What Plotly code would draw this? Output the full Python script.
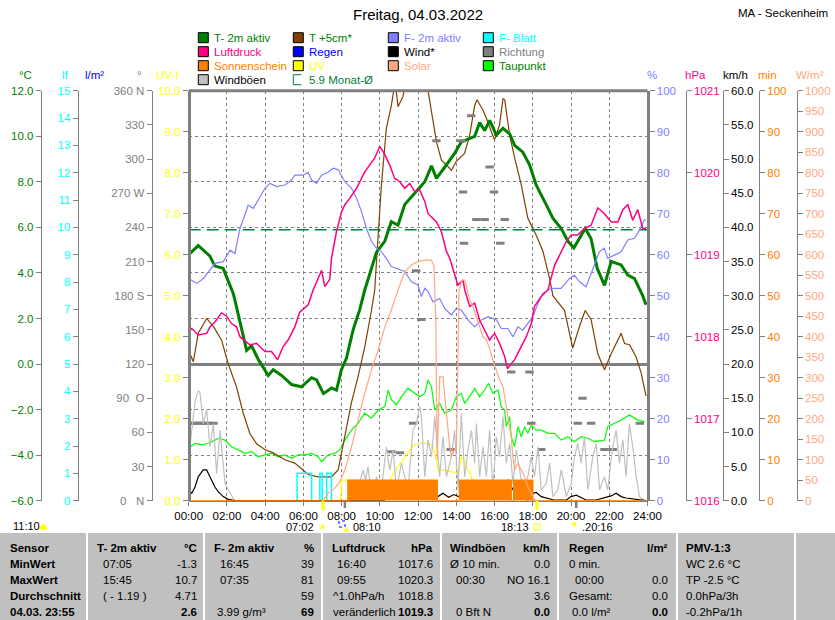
import plotly.graph_objects as go

W, H = 835, 620
FONT = "Liberation Sans, Arial, sans-serif"
GREY = "#808080"

# ---------------- data (time in hours) ----------------
t2m_time = [0.00, 0.50, 1.10, 1.37, 1.80, 2.07, 2.33, 2.42, 2.68, 3.03, 3.29, 3.64, 4.16, 4.42, 4.86,
            5.38, 5.90, 6.43, 6.69, 7.05, 7.47, 7.73, 7.99, 8.25, 8.60, 8.95, 9.21, 9.30, 9.82, 10.26,
            10.60, 10.95, 11.30, 11.82, 12.35, 12.70, 12.96, 13.40, 13.91, 14.26, 14.96, 15.22, 15.48,
            15.75, 16.09, 16.44, 16.79, 17.05, 17.48, 17.83, 18.18, 18.70, 19.05, 19.49, 19.83, 20.15,
            20.44, 20.74, 21.05, 21.37, 21.75, 22.10, 22.62, 22.97, 23.32, 23.75, 23.92]
t2m_val = [4.8, 5.2, 4.75, 4.3, 4.2, 3.6, 3.1, 2.8, 1.8, 0.6, 0.8, 0.2, -0.5, -0.25, -0.5,
           -0.9, -1.0, -0.6, -0.7, -1.3, -1.05, -1.15, -0.25, 0.25, 1.5, 2.4, 3.25, 3.5, 4.9, 5.4,
           6.25, 6.1, 7.0, 7.5, 8.0, 8.7, 8.15, 8.65, 9.25, 9.75, 10.0, 10.6, 10.25,
           10.7, 10.05, 10.35, 10.1, 9.6, 9.3, 8.75, 7.85, 7.0, 6.4, 5.95, 5.4, 5.1,
           5.5, 5.95, 5.5, 4.2, 3.45, 4.5, 4.35, 3.9, 3.75, 3.0, 2.6]

t5_time = [0.00, 0.24, 0.50, 0.94, 1.29, 1.72, 2.07, 2.50, 2.85, 3.20, 3.55, 3.98, 4.42, 5.03, 5.55,
           6.25, 6.77, 7.47, 7.82, 8.17, 8.51, 8.86, 9.21, 9.56, 9.73, 9.91, 10.08, 10.34, 10.60,
           10.80, 10.95, 11.21, 11.40, 11.90, 12.30, 12.52, 12.70, 12.96, 13.22, 13.48, 13.74, 14.00,
           14.43, 14.70, 14.96, 15.08, 15.39, 15.57, 15.83, 16.00, 16.26, 16.44, 16.53, 16.79, 17.05,
           17.40, 17.74, 18.18, 18.53, 18.88, 19.05, 19.66, 20.09, 20.44, 20.74, 21.05, 21.40, 21.75,
           22.10, 22.36, 22.62, 22.80, 23.06, 23.41, 23.67, 23.92]
t5_val = [0.6, 0.1, 1.35, 2.0, 1.65, 1.05, 0.0, -1.0, -2.15, -3.05, -3.5, -3.75, -3.9, -4.2, -4.35,
          -4.85, -4.95, -4.95, -4.65, -3.2, -1.7, -0.55, 0.75, 2.35, 3.25, 5.65, 7.85, 10.35, 11.35,
          12.4, 11.3, 11.75, 12.6, 13.2, 12.8, 12.0, 11.1, 9.75, 8.95, 8.75, 8.5, 8.9,
          9.25, 10.05, 11.35, 11.6, 11.15, 10.8, 10.2, 9.85, 10.5, 11.65, 11.6, 10.05, 9.05,
          7.85, 6.4, 5.65, 4.95, 3.75, 3.0, 2.35, 0.7, 1.65, 2.35, 1.95, 0.45, -0.25,
          0.45, 0.9, 1.35, 0.9, 0.85, 0.3, -0.4, -1.4]

dew_time = [0.00, 0.33, 0.68, 1.03, 1.37, 1.55, 1.90, 2.24, 2.59, 2.94, 3.29, 3.64, 3.99, 4.33, 4.68,
            5.03, 5.38, 5.73, 6.08, 6.43, 6.77, 6.95, 7.29, 7.64, 7.90, 8.17, 8.52, 8.86, 9.21, 9.56,
            9.91, 10.26, 10.43, 10.61, 10.87, 11.13, 11.47, 11.82, 12.08, 12.35, 12.52, 12.70, 12.87,
            13.13, 13.39, 13.74, 14.00, 14.26, 14.44, 14.70, 14.96, 15.22, 15.48, 15.69, 15.91, 16.18,
            16.35, 16.53, 16.61, 16.79, 16.87, 17.05, 17.22, 17.40, 17.57, 17.74, 17.92, 18.18, 18.44,
            18.79, 19.14, 19.49, 19.83, 20.18, 20.53, 20.88, 21.22, 21.75, 21.92, 22.27, 22.62, 23.05,
            23.49, 23.84]
dew_val = [-3.7, -3.48, -3.55, -3.48, -3.34, -3.26, -3.34, -3.63, -3.77, -3.92, -3.85, -4.07, -3.99, -3.92, -4.07,
           -3.99, -4.14, -3.99, -3.99, -3.92, -4.07, -4.29, -3.99, -3.92, -3.77, -3.34, -2.9, -2.6, -2.16, -2.38,
           -2.02, -1.87, -1.14, -1.58, -1.8, -1.43, -1.07, -1.3, -1.43, -1.29, -0.7, -1.0, -2.02,
           -1.73, -2.16, -2.02, -1.43, -1.29, -1.73, -1.43, -1.07, -1.43, -1.14, -0.85, -1.29, -1.14,
           -1.87, -2.02, -2.75, -2.31, -3.19, -3.63, -2.75, -3.19, -2.75, -3.04, -2.68, -2.9, -2.9,
           -3.04, -3.04, -3.34, -3.19, -3.41, -3.19, -3.26, -3.41, -3.34, -2.75, -2.6, -2.46, -2.24,
           -2.46, -2.53]

monat_avg = 5.9

hum_time = [0.00, 0.42, 0.77, 1.37, 1.81, 2.16, 2.42, 2.68, 2.94, 3.11, 3.38, 3.64, 3.99, 4.25, 4.60,
            5.03, 5.38, 5.55, 5.99, 6.25, 6.43, 6.69, 6.95, 7.29, 7.56, 7.82, 8.17, 8.52, 8.78, 9.04,
            9.30, 9.56, 9.82, 10.08, 10.34, 10.60, 11.04, 11.30, 11.65, 12.00, 12.17, 12.35, 12.52,
            12.78, 13.13, 13.39, 13.74, 14.00, 14.26, 14.61, 14.96, 15.31, 15.66, 16.10, 16.35, 16.70,
            16.96, 17.22, 17.48, 17.74, 18.00, 18.27, 18.53, 18.96, 19.48, 19.92, 20.18, 20.44, 20.79,
            21.22, 21.48, 21.74, 21.92, 22.27, 22.62, 22.97, 23.32, 23.58, 23.84, 23.92]
hum_val = [54.2, 53.0, 54.2, 57.9, 58.3, 61.1, 60.3, 66.4, 69.7, 72.1, 71.3, 73.3, 76.2, 77.4, 76.6,
           77.0, 78.2, 79.4, 79.4, 80.1, 78.2, 77.4, 79.4, 80.1, 81.1, 80.7, 77.8, 76.2, 73.8, 70.5,
           66.4, 63.2, 61.6, 60.7, 59.1, 57.1, 56.3, 55.9, 53.4, 52.6, 49.8, 51.8, 51.0,
           48.5, 49.3, 46.9, 45.3, 46.9, 46.5, 44.1, 42.4, 44.1, 44.9, 44.1, 42.0, 42.0,
           40.0, 42.4, 41.6, 43.3, 44.9, 48.1, 50.6, 51.8, 51.8, 54.2, 55.0, 53.4, 52.2,
           57.5, 60.7, 61.6, 59.1, 59.9, 60.7, 63.6, 64.0, 66.0, 68.5, 68.5]

hpa_time = [0.00, 0.16, 0.50, 0.94, 1.11, 1.37, 1.72, 1.98, 2.24, 2.50, 2.68, 3.20, 3.55, 3.98, 4.33,
            4.65, 4.94, 5.20, 5.55, 5.81, 6.25, 6.51, 6.77, 6.95, 7.12, 7.38, 7.47, 7.73, 7.99, 8.17,
            8.43, 8.78, 9.21, 9.47, 9.73, 9.99, 10.26, 10.52, 10.78, 11.04, 11.30, 11.56, 11.82, 12.08,
            12.35, 12.52, 12.96, 13.22, 13.48, 13.65, 13.91, 14.08, 14.35, 14.44, 14.70, 14.96, 15.22,
            15.48, 15.74, 16.00, 16.26, 16.53, 16.67, 17.05, 17.40, 17.66, 17.92, 18.09, 18.44, 18.79,
            19.14, 19.49, 19.75, 20.01, 20.35, 20.70, 21.05, 21.40, 21.75, 22.10, 22.45, 22.71, 22.97,
            23.23, 23.49, 23.75, 23.92]
hpa_val = [1018.06, 1018.10, 1018.02, 1018.04, 1018.12, 1018.18, 1018.29, 1018.25, 1018.16, 1018.12, 1018.00,
           1017.90, 1017.92, 1017.82, 1017.82, 1017.72, 1017.88, 1017.96, 1018.12, 1018.30, 1018.39, 1018.57,
           1018.71, 1018.81, 1018.61, 1018.70, 1018.96, 1019.28, 1019.52, 1019.61, 1019.69, 1019.81, 1020.01,
           1020.09, 1020.18, 1020.32, 1020.22, 1020.09, 1019.93, 1019.89, 1019.81, 1019.87, 1019.77, 1019.79,
           1019.65, 1019.50, 1019.40, 1019.28, 1019.04, 1018.96, 1018.75, 1018.63, 1018.69, 1018.57, 1018.37,
           1018.41, 1018.20, 1018.08, 1017.96, 1018.04, 1017.92, 1017.76, 1017.61, 1017.72, 1017.88, 1018.00,
           1018.16, 1018.37, 1018.49, 1018.57, 1018.87, 1019.04, 1019.16, 1019.24, 1019.24, 1019.32, 1019.36,
           1019.57, 1019.50, 1019.40, 1019.40, 1019.55, 1019.61, 1019.42, 1019.55, 1019.32, 1019.32]

gust_time = [0.00, 0.16, 0.33, 0.50, 0.59, 0.76, 0.94, 1.11, 1.29, 1.46, 1.64, 1.90, 2.07, 2.42, 8.60,
             8.86, 9.12, 9.25, 9.38, 9.56, 9.82, 10.08, 10.34, 10.52, 10.69, 10.87, 11.13, 11.30, 11.47,
             11.73, 11.91, 12.08, 12.17, 12.35, 12.52, 12.70, 12.87, 13.13, 13.30, 13.48, 13.74, 13.91,
             14.09, 14.26, 14.44, 14.61, 14.79, 14.96, 15.05, 15.22, 15.39, 15.57, 15.74, 15.91, 16.09,
             16.26, 16.44, 16.61, 16.79, 16.96, 17.14, 17.31, 17.48, 17.74, 17.92, 18.09, 18.27, 18.44,
             18.70, 18.88, 19.05, 19.31, 19.49, 19.75, 20.01, 20.18, 20.35, 20.53, 20.70, 20.88, 21.14,
             21.32, 21.49, 21.75, 21.92, 22.18, 22.36, 22.53, 22.71, 22.88, 23.05, 23.23, 23.41, 23.58,
             23.84]
gust_val = [6.4, 10.3, 14.5, 16.1, 15.8, 11.3, 13.3, 7.9, 11.3, 4.0, 10.3, 2.5, 1.6, 0.0, 0.0,
            1.6, 4.5, 3.0, 5.0, 0.7, 3.5, 1.6, 7.9, 4.5, 7.4, 1.6, 5.5, 3.5, 1.6,
            10.3, 11.3, 13.8, 12.3, 3.5, 8.9, 6.4, 12.3, 3.5, 9.4, 3.5, 6.4, 10.3,
            1.6, 12.8, 3.5, 7.4, 10.3, 5.5, 11.3, 3.5, 7.9, 3.5, 10.3, 1.6, 9.4,
            6.4, 12.3, 5.5, 8.4, 2.5, 7.4, 4.5, 1.6, 3.5, 6.4, 3.5, 7.9, 1.6,
            2.5, 5.5, 0.6, 1.6, 4.5, 0.6, 2.5, 6.4, 8.4, 5.5, 9.4, 1.6, 6.4,
            8.4, 1.6, 3.5, 1.6, 7.9, 10.3, 5.5, 8.9, 3.5, 11.3, 7.9, 3.5, 0.6,
            0.0]

wind_time = [0.00, 0.16, 0.33, 0.50, 0.76, 0.94, 1.11, 1.37, 1.55, 1.81, 2.07, 2.42, 10.20, 10.52,
             10.80, 11.30, 11.65, 12.00, 12.17, 12.50, 12.78, 13.04, 13.30, 13.60, 13.86, 14.12, 14.38,
             14.64, 14.90, 15.10, 15.38, 15.65, 15.90, 16.16, 16.43, 16.70, 16.96, 17.22, 17.48, 17.74,
             17.92, 18.18, 18.44, 18.80, 19.10, 19.75, 20.00, 20.27, 20.53, 20.79, 21.30, 21.56, 21.83,
             22.10, 22.36, 22.62, 22.88, 23.20, 23.60, 23.92]
wind_val = [1.6, 1.1, 2.0, 3.5, 4.5, 4.5, 3.5, 2.0, 1.3, 0.6, 0.2, 0.0, 0.0, 0.6,
            0.2, 0.3, 0.6, 1.1, 1.1, 0.9, 0.7, 0.6, 1.1, 0.5, 0.9, 0.6, 1.1,
            0.4, 0.9, 0.6, 1.1, 1.6, 0.7, 1.2, 1.9, 3.0, 1.6, 0.7, 0.3, 0.1,
            1.0, 1.2, 0.6, 0.3, 0.1, 0.1, 0.6, 0.8, 0.4, 0.1, 0.1, 0.3, 0.5,
            0.7, 1.1, 0.6, 0.4, 0.3, 0.1, 0.0]

dir_time = [0.05, 0.25, 0.45, 0.65, 0.85, 1.05, 1.30, 10.60, 11.05, 11.74, 11.90, 12.17, 12.96, 13.70,
            14.26, 14.35, 14.40, 14.78, 15.05, 15.48, 15.74, 15.97, 16.30, 16.53, 16.87, 17.83, 17.92,
            18.44, 20.35, 20.60, 21.05, 21.75, 22.18, 23.60]
dir_deg = [68, 68, 68, 68, 68, 68, 68, 43, 42, 68, 202, 159, 316, 45,
           316, 271, 226, 338, 247, 247, 293, 271, 226, 247, 113, 113, 68,
           45, 68, 90, 68, 45, 45, 68]

solar_time = [7.03, 7.29, 7.64, 7.90, 8.17, 8.52, 8.86, 9.21, 9.56, 9.91, 10.26, 10.60, 10.95, 11.30,
              11.65, 12.00, 12.35, 12.70, 12.83, 12.87, 12.93, 12.96, 13.00, 13.05, 13.13, 13.30, 13.39,
              13.48, 13.65, 13.74, 13.91, 14.00, 14.09, 14.14, 14.30, 14.44, 14.61, 14.70, 14.87, 15.05,
              15.22, 15.39, 15.57, 15.74, 15.91, 16.09, 16.26, 16.44, 16.61, 16.70, 16.87, 16.96, 17.05,
              17.22, 17.40, 17.57, 17.74, 17.92, 18.09, 18.20]
solar_val = [0, 18, 30, 46, 75, 132, 197, 262, 319, 367, 424, 465, 514, 558,
             575, 583, 587, 587, 571, 526, 433, 270, 99, 180, 302, 302, 254,
             205, 132, 107, 124, 120, 351, 514, 538, 538, 506, 490, 473, 449,
             424, 400, 392, 372, 343, 319, 295, 278, 229, 197, 156, 107, 75,
             91, 75, 59, 34, 18, 3, 0]

uv_time = [7.95, 8.00, 10.00, 10.34, 10.70, 11.04, 11.39, 11.74, 12.09, 12.52, 12.78, 12.96, 13.05,
           13.30, 13.57, 14.10, 14.27, 14.40, 14.61, 14.79, 14.87, 14.96]
uv_val = [0.0, 0.5, 0.5, 0.35, 0.65, 0.9, 1.1, 1.35, 1.4, 1.4, 1.32, 1.0, 0.75,
          0.75, 0.72, 0.67, 1.07, 1.0, 0.75, 0.6, 0.34, 0.0]

sun_time = [0, 8.33, 13.0, 14.17, 16.87, 17.0, 18.0, 24]
sun_min = [0, 5, 0, 5, 0, 5, 0, 0]

leaf_start = [5.67, 6.86, 7.22]
leaf_end = [6.43, 6.98, 7.47]
leaf_val = [1.0, 1.0, 1.0]

hour_ticks = list(range(0, 25, 2))
hour_labels = [f"{h:02d}:00" for h in hour_ticks]
dir_ticks = list(range(0, 361, 30))
dir_labels = ["0\u00a0\u00a0\u00a0N", "30", "60", "90\u00a0\u00a0O", "120", "150", "180 S",
              "210", "240", "270 W", "300", "330", "360 N"]

sunrise, sunset = 7.03, 18.22
light_on, light_off = 8.17, 20.27

# ---------------- geometry (pixels of the 835x620 page) ----------------
PX_L, PX_R, PX_T, PX_B = 188.7, 647.5, 90.7, 500.7
XDOM = [PX_L / W, PX_R / W]
YDOM = [1 - PX_B / H, 1 - PX_T / H]


def px(x):
    return x / W


def py(y):
    return 1 - y / H


fig = go.Figure()


def line(x, y, axis, color, width=1.0, **kw):
    fig.add_trace(go.Scatter(x=x, y=y, yaxis=axis, mode="lines",
                             line=dict(color=color, width=width),
                             hoverinfo="skip", showlegend=False, **kw))


# sunshine minutes (step fill)
line(sun_time, sun_min, "y9", "#ff8000", 1.5, line_shape="hv", fill="tozeroy", fillcolor="#ff8000")

# leaf wetness blocks
lx, ly = [], []
for s, e, v in zip(leaf_start, leaf_end, leaf_val):
    lx += [s, s, e, e, None]
    ly += [0, v, v, 0, None]
line(lx, ly, "y2", "#00ffff", 1.5)

line(gust_time, gust_val, "y8", "#c0c0c0", 1.2)
line(wind_time, wind_val, "y8", "#000000", 1.2)
line(uv_time, uv_val, "y5", "#ffff00", 1.2)
line(solar_time, solar_val, "y10", "#ffa880", 1.2)

fig.add_trace(go.Scatter(x=dir_time, y=dir_deg, yaxis="y4", mode="markers",
                         marker=dict(symbol="line-ew", size=6, line=dict(color=GREY, width=3)),
                         hoverinfo="skip", showlegend=False))

line(dew_time, dew_val, "y", "#00ff00", 1.2)
line(hum_time, hum_val, "y6", "#8080ff", 1.2)
line(hpa_time, hpa_val, "y7", "#ff0080", 1.5)
line(t5_time, t5_val, "y", "#804000", 1.2)
line([0, 24], [monat_avg, monat_avg], "y", "#008040", 1.5, line_dash="12px,6px")
line(t2m_time, t2m_val, "y", "#008000", 3)


def yax(rng, pos, side, color, dtick, fmt, width=1, **kw):
    d = dict(range=rng, anchor="free", position=pos, side=side,
             showline=True, linecolor=GREY, linewidth=width,
             ticks="outside", ticklen=5, tickcolor=GREY, tickwidth=1,
             dtick=dtick, tick0=rng[0], tickformat=fmt,
             tickfont=dict(color=color, size=11.5, family=FONT),
             showgrid=False, zeroline=False, fixedrange=True, automargin=False)
    d.update(kw)
    return d


layout = dict(
    width=W, height=H, margin=dict(l=0, r=0, t=0, b=0),
    paper_bgcolor="white", plot_bgcolor="white", showlegend=False,
    font=dict(family=FONT, size=11.5, color="black"),
    xaxis=dict(domain=XDOM, range=[0, 24], tickvals=hour_ticks, ticktext=hour_labels,
               showgrid=True, gridcolor=GREY, griddash="3px,3px", gridwidth=1,
               showline=True, linecolor=GREY, linewidth=1, ticks="outside", ticklen=4,
               tickcolor=GREY, zeroline=False, fixedrange=True, automargin=False,
               tickfont=dict(size=11.5, color="black", family=FONT), anchor="y"),
    yaxis=yax([-6, 12], px(40.7), "left", "#008000", 2, ".1f", domain=YDOM,
              showgrid=True, gridcolor=GREY, griddash="3px,3px", gridwidth=1,
              zeroline=True, zerolinecolor=GREY, zerolinewidth=3),
    yaxis2=yax([0, 15], px(77.7), "left", "#00ffff", 1, "d", overlaying="y"),
    yaxis3=yax([0, 5], px(114), "left", "#0000ff", 1, ".1f", overlaying="y"),
    yaxis4=yax([0, 360], px(151.7), "left", GREY, 30, "", overlaying="y",
               tickmode="array", tickvals=dir_ticks, ticktext=dir_labels),
    yaxis5=yax([0, 10], XDOM[0], "left", "#ffff00", 1, ".1f", width=3, overlaying="y"),
    yaxis6=yax([0, 100], XDOM[1], "right", "#8080ff", 10, "d", width=3, overlaying="y"),
    yaxis7=yax([1016, 1021], px(685.7), "right", "#ff0080", 1, "d", overlaying="y"),
    yaxis8=yax([0, 60], px(722.7), "right", "#000000", 5, ".1f", overlaying="y"),
    yaxis9=yax([0, 100], px(759), "right", "#ff8000", 10, "d", overlaying="y"),
    yaxis10=yax([0, 1000], px(796.7), "right", "#ffa880", 50, "d", overlaying="y"),
)
fig.update_layout(**layout)

shapes = []
ann = []


def text(x, y, s, color="black", size=11.5, anchor="left", bold=False, family=FONT):
    ann.append(dict(x=px(x), y=py(y), xref="paper", yref="paper", text=f"<b>{s}</b>" if bold else s,
                    showarrow=False, xanchor=anchor, yanchor="middle",
                    font=dict(color=color, size=size, family=family)))


# top frame line
shapes.append(dict(type="line", xref="paper", yref="paper", x0=XDOM[0], x1=XDOM[1],
                   y0=YDOM[1], y1=YDOM[1], line=dict(color=GREY, width=3)))

# sunrise / sunset / light marks on the time axis
for t, c, w, y1 in [(sunrise, "#ffff00", 3, 510), (sunset, "#ffff00", 3, 510),
                    (light_on, GREY, 2.5, 508), (light_off, GREY, 2.5, 508)]:
    shapes.append(dict(type="line", xref="x", yref="paper", x0=t, x1=t, y0=py(PX_B), y1=py(y1),
                       line=dict(color=c, width=w)))

# title
text(418, 15, "Freitag, 04.03.2022", size=15, anchor="center")
text(830, 13, "MA - Seckenheim", size=11.5, anchor="right")

# axis unit labels
for x, s, c in [(25.5, "°C", "#008000"), (65, "lf", "#00ffff"), (94, "l/m²", "#0000ff"),
                (139, "°", GREY), (167, "UV-I", "#ffff00"), (652, "%", "#8080ff"),
                (695, "hPa", "#ff0080"), (735, "km/h", "#000000"), (767.5, "min", "#ff8000"),
                (810, "W/m²", "#ffa880")]:
    text(x, 75, s, c, anchor="center")

# legend
legend_rows = [
    [("T- 2m aktiv", "#008000", "#008000"), ("T +5cm*", "#804000", "#008000"),
     ("F- 2m aktiv", "#8080ff", "#8080ff"), ("F- Blatt", "#00ffff", "#00ffff")],
    [("Luftdruck", "#ff0080", "#ff0080"), ("Regen", "#0000ff", "#0000ff"),
     ("Wind*", "#000000", "#000000"), ("Richtung", GREY, GREY)],
    [("Sonnenschein", "#ff8000", "#ff8000"), ("UV", "#ffff00", "#ffff00"),
     ("Solar", "#ffa880", "#ffa880"), ("Taupunkt", "#00ff00", "#008000")],
    [("Windböen", "#c0c0c0", "#000000"), ("5.9 Monat-Ø", None, "#008040")],
]
col_x = [198.3, 293.3, 388.3, 483.3]
row_y = [37.7, 51.7, 65.7, 79.7]
for r, row in enumerate(legend_rows):
    for c, (lab, sq, tc) in enumerate(row):
        x0, yc = col_x[c], row_y[r]
        if sq:
            shapes.append(dict(type="rect", xref="paper", yref="paper", x0=px(x0), x1=px(x0 + 10),
                               y0=py(yc + 5), y1=py(yc - 5), fillcolor=sq,
                               line=dict(color="black", width=1)))
        else:
            shapes.append(dict(type="path", xref="paper", yref="paper",
                               path=f"M {px(x0 + 8)} {py(yc - 5)} L {px(x0)} {py(yc - 5)} "
                                    f"L {px(x0)} {py(yc + 5)} L {px(x0 + 8)} {py(yc + 5)}",
                               line=dict(color="#008040", width=1)))
        text(x0 + 14, yc, lab, tc)

# sun / light times below the axis
text(11, 526, "11:10", size=11)
shapes.append(dict(type="path", xref="paper", yref="paper",
                   path=f"M {px(39)} {py(529)} Q {px(43)} {py(520)} {px(47)} {py(529)} Z",
                   fillcolor="#ffff00", line=dict(color="#ffff00", width=1)))
text(316, 527, "07:02", anchor="right", size=11)
text(323, 527, "☀", "#ffff00", size=11, anchor="center", family="DejaVu Sans")
shapes.append(dict(type="rect", xref="paper", yref="paper", x0=px(339), x1=px(345),
                   y0=py(527), y1=py(521), line=dict(color="#0000ff", width=1, dash="dot")))
text(347, 529, "▲", "#ffff00", size=7, anchor="center", family="DejaVu Sans")
text(351, 527, "08:10", size=11)
text(531, 527, "18:13", anchor="right", size=11)
shapes.append(dict(type="rect", xref="paper", yref="paper", x0=px(534), x1=px(540),
                   y0=py(530), y1=py(524), line=dict(color="#ffff00", width=1)))
text(575, 525, "▼", "#ffff00", size=7, anchor="center", family="DejaVu Sans")
text(580, 527, ".20:16", size=11)

# bottom summary table
shapes.append(dict(type="rect", xref="paper", yref="paper", x0=0, x1=1, y0=0, y1=py(533),
                   fillcolor="#c0c0c0", line=dict(width=0), layer="below"))
for sx in [87, 204, 322, 441, 558, 677, 795]:
    shapes.append(dict(type="line", xref="paper", yref="paper", x0=px(sx), x1=px(sx), y0=0,
                       y1=py(533), line=dict(color="white", width=2)))

table_y = [547.7, 563.5, 579.5, 595.7, 611.5]
sensor_col = ["Sensor", "MinWert", "MaxWert", "Durchschnitt", "04.03. 23:55"]
for y, s in zip(table_y, sensor_col):
    text(8, y, s, bold=True)

table_cols = [
    # header left x, header, unit, right x, left texts x, left texts, right texts
    (95, "T- 2m aktiv", "°C", 199, 100.5, ["07:05", "15:45", "( - 1.19 )", ""],
     ["-1.3", "10.7", "4.71", "2.6"]),
    (212, "F- 2m aktiv", "%", 316, 218, ["16:45", "07:35", "", ""], ["39", "81", "59", "69"]),
    (330, "Luftdruck", "hPa", 435, 335, ["16:40", "09:55", "", ""],
     ["1017.6", "1020.3", "1018.8", "1019.3"]),
    (448, "Windböen", "km/h", 552, 454, ["", "00:30", "", "0 Bft N"], ["0.0", "NO 16.1", "3.6", "0.0"]),
    (566.5, "Regen", "l/m²", 670, 572.5, ["", "00:00", "", ""], ["", "0.0", "0.0", "0.0"]),
]
for hx, head, unit, rx, lx0, lefts, rights in table_cols:
    text(hx, table_y[0], head, bold=True)
    text(rx, table_y[0], unit, bold=True, anchor="right")
    for i, (lt, rt) in enumerate(zip(lefts, rights)):
        if lt:
            text(lx0, table_y[i + 1], lt)
        if rt:
            text(rx, table_y[i + 1], rt, anchor="right", bold=(i == 3))

# column texts that start at the header position
for x, y, s in [(215, table_y[4], "3.99 g/m³"), (330.5, table_y[3], "^1.0hPa/h"),
                (330.5, table_y[4], "veränderlich"), (448, table_y[1], "Ø 10 min."),
                (566.5, table_y[1], "0 min."), (566.5, table_y[3], "Gesamt:"),
                (570, table_y[4], "0.0 l/m²")]:
    text(x, y, s)

text(684, table_y[0], "PMV-1:3", bold=True)
for y, s in zip(table_y[1:], ["WC 2.6 °C", "TP -2.5 °C", "0.0hPa/3h", "-0.2hPa/1h"]):
    text(684, y, s)

fig.update_layout(shapes=shapes, annotations=ann)

fig.write_html("out.html", config={"displayModeBar": False, "staticPlot": True},
               post_script="document.body.style.margin='0px';")
